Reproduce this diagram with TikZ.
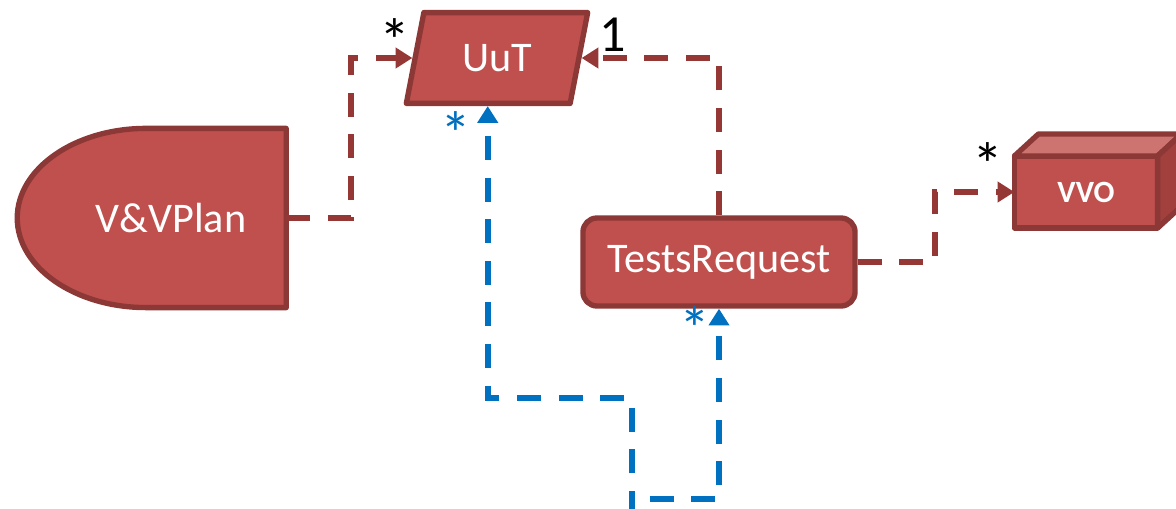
\documentclass[tikz,border=0pt]{standalone}
\usepackage{fontspec}
\setmainfont{Carlito}
\usetikzlibrary{shapes.geometric,arrows.meta,backgrounds}
\definecolor{blockred}{RGB}{192,80,77}
\definecolor{blockedge}{RGB}{140,56,54}
\definecolor{linkred}{RGB}{149,55,53}
\definecolor{linkblue}{RGB}{0,112,192}
\definecolor{boxtop}{RGB}{205,115,112}
\definecolor{boxside}{RGB}{162,64,61}

\begin{document}
\begin{tikzpicture}[x=0.025cm, y=-0.025cm,
    block/.style={fill=blockred, draw=blockedge, line width=3.8pt, line join=round,
        text=white, font=\fontsize{30}{34}\selectfont},
    link/.style={linkred, line width=4.2pt, dash pattern=on 0.6cm off 0.44cm,
        -{Triangle[length=0.42cm, width=0.5cm]}},
    bluelink/.style={link, linkblue},
    mult/.style={inner sep=0pt, font=\fontsize{44}{46}\selectfont}
]
    \useasboundingbox (0,0) rectangle (1176,508);

    \node[block, trapezium, trapezium left angle=73, trapezium right angle=107,
        trapezium stretches=true, minimum width=4.55cm, minimum height=2.27cm,
        inner sep=0pt] (uut) at (497,58) {UuT};

    \node[block, rounded corners=0.35cm, minimum width=6.8cm, minimum height=2.2cm]
        (tests) at (719,262) {TestsRequest};

    % front face of the box, then its top and side
    \node[block, minimum width=3.58cm, minimum height=1.8cm, outer sep=0pt,
        font=\fontsize{22}{24}\selectfont\bfseries] (vvo) at (1086,192) {VVO};
    \draw[block, fill=boxtop] (vvo.north west) -- ++(24,-22) -- ++(143,0)
        -- (vvo.north east) -- cycle;
    \draw[block, fill=boxside] (vvo.north east) -- ++(24,-22) -- ++(0,72)
        -- (vvo.south east) -- cycle;

    % plan: flat right side, half ellipse on the left
    \node[text=white, font=\fontsize{30}{34}\selectfont, outer sep=0pt,
        minimum width=5.76cm, minimum height=4.48cm] (plan) at (171,218) {V\&VPlan};
    \begin{scope}[on background layer]
        \draw[block] (plan.north east) -- ++(-140,0)
            arc[start angle=-90, end angle=-270, x radius=129, y radius=89.6]
            -- (plan.south east) -- cycle;
    \end{scope}

    % links
    \draw[link] (plan.east) -- ++(65,0) |- (uut.west);
    \draw[link] (tests.north) |- (uut.east);
    \draw[link] (tests.east) -- ++(77,0) |- (vvo.west);

    \coordinate (below) at (632,515);
    \coordinate (turn) at (632,398);
    \coordinate (split) at (632,499);
    \draw[bluelink] (below) -- (turn) -| (uut.bottom side);
    \draw[bluelink, dash phase=0.6cm] (split) -| (tests.south);

    % multiplicities
    \node[mult] (m1) at (395,41) {*};
    \node[mult, font=\fontsize{37}{40}\selectfont] (m2) at (613,35) {1};
    \node[mult] (m3) at (988,165) {*};
    \node[mult, text=linkblue] (m4) at (456,134) {*};
    \node[mult, text=linkblue] (m5) at (695,329) {*};
\end{tikzpicture}
\end{document}
